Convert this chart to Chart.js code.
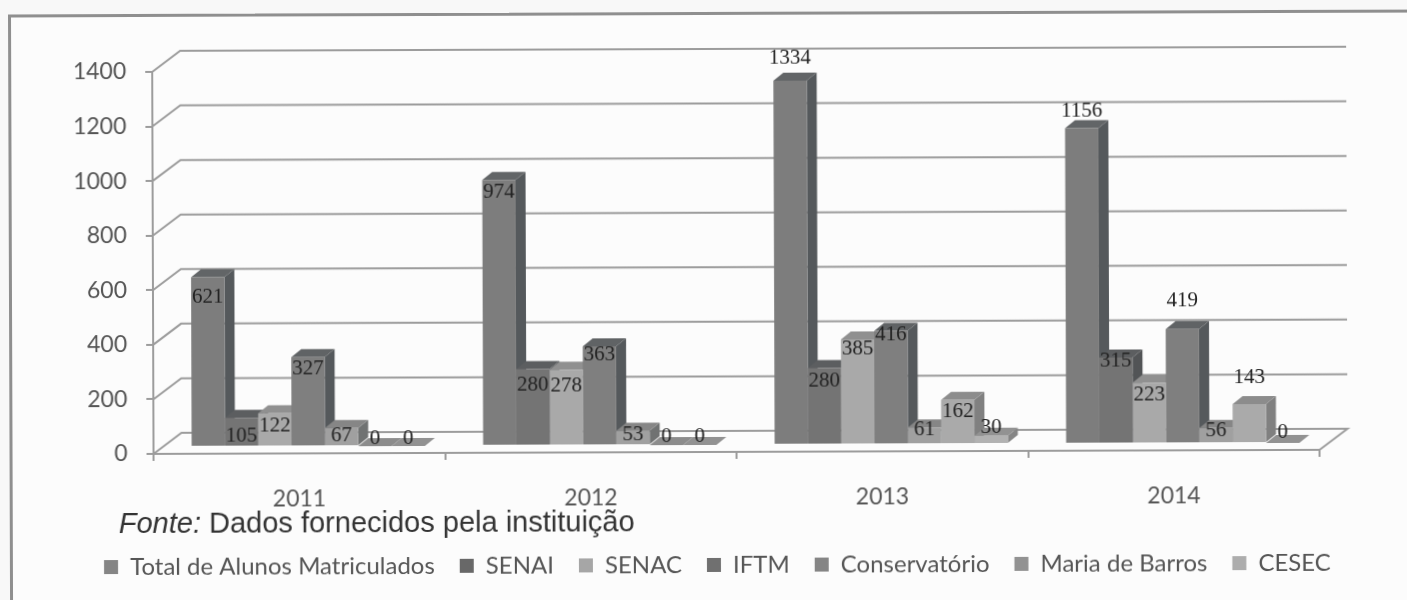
<!DOCTYPE html>
<html>
<head>
<meta charset="utf-8">
<script src="https://cdn.jsdelivr.net/npm/chart.js@4"></script>
<style>
html, body { margin: 0; width: 1407px; height: 600px; overflow: hidden; background: #f8f8f8; }
#page { position: absolute; left: 0; top: 0; width: 1407px; height: 600px; transform: rotate(-0.2deg); }
#frame { position: absolute; left: 9px; top: 12px; width: 1420px; height: 590px; border: 3px solid #8f8f8f; background: #fcfcfc; }
#chart { position: absolute; left: 0; top: 0; }
#fonte { position: absolute; left: 118px; top: 505px; font: 29px "Liberation Sans", sans-serif; color: #333; white-space: nowrap; }
</style>
</head>
<body>
<div id="page">
  <div id="frame"></div>
  <canvas id="chart" width="1407" height="600"></canvas>
  <div id="fonte"><em>Fonte:</em> Dados fornecidos pela instituição</div>
</div>
<script>
const years = ["2011", "2012", "2013", "2014"];
const seriesNames = ["Total de Alunos Matriculados", "SENAI", "SENAC", "IFTM", "Conservatório", "Maria de Barros", "CESEC"];
const totalAlunos = [621, 974, 1334, 1156];
const senai = [105, 280, 280, 315];
const senac = [122, 278, 385, 223];
const iftm = [327, 363, 416, 419];
const conservatorio = [67, 53, 61, 56];
const mariaDeBarros = [0, 0, 162, 143];
const cesec = [0, 0, 30, 0];
const seriesValues = [totalAlunos, senai, senac, iftm, conservatorio, mariaDeBarros, cesec];

// front, side and top of each 3d bar, then the legend square
const frontColors = ["#7d7d7d", "#747474", "#a9a9a9", "#7f7f7f", "#a0a0a0", "#aaaaaa", "#b2b2b2"];
const sideColors = ["#55595c", "#525456", "#808080", "#55595c", "#707272", "#808080", "#858585"];
const topColors = ["#626567", "#5c5e60", "#909090", "#606365", "#868686", "#8c8c8c", "#929292"];
const legendColors = ["#858585", "#686868", "#a6a6a6", "#707070", "#858585", "#929292", "#adadad"];

// how far each label sits from the top of its bar, by series then year
const labelDy = [
  [19, 11, -24, -18],
  [17, 15, 12, 2],
  [12, 15, 9, 11],
  [11, 8, 3, -29],
  [7, 3, 1, 2],
  [-9, -10, 11, -27],
  [-9, -10, -9, -12]
];

const barShift = { x: 9, y: -7 };
const depth = { x: 10, y: 8 };
const wall = { x: 28, y: 21 };
const gridColor = "#9c9c9c";

function poly(ctx, color, pts) {
  ctx.fillStyle = color;
  ctx.beginPath();
  pts.forEach((p, i) => i ? ctx.lineTo(p[0], p[1]) : ctx.moveTo(p[0], p[1]));
  ctx.closePath();
  ctx.fill();
}

const wallAndDepth = {
  id: "wallAndDepth",
  beforeDatasetsDraw(chart) {
    const ctx = chart.ctx, area = chart.chartArea, yScale = chart.scales.y;
    ctx.save();
    // back wall lines
    ctx.strokeStyle = gridColor;
    ctx.lineWidth = 2;
    yScale.ticks.forEach(t => {
      const y = yScale.getPixelForValue(t.value);
      ctx.beginPath();
      ctx.moveTo(area.left, y);
      ctx.lineTo(area.left + wall.x, y - wall.y);
      ctx.lineTo(area.right + wall.x, y - wall.y);
      if (t.value === 0) ctx.lineTo(area.right, y);
      ctx.stroke();
    });
    ctx.translate(barShift.x, barShift.y);
    // sides and tops left to right, fronts come after from the library
    years.forEach((year, c) => {
      seriesNames.forEach((name, d) => {
        const bar = chart.getDatasetMeta(d).data[c];
        const l = bar.x - bar.width / 2, r = bar.x + bar.width / 2;
        poly(ctx, sideColors[d], [[r, bar.y], [r + depth.x, bar.y - depth.y], [r + depth.x, bar.base - depth.y], [r, bar.base]]);
        poly(ctx, topColors[d], [[l, bar.y], [l + depth.x, bar.y - depth.y], [r + depth.x, bar.y - depth.y], [r, bar.y]]);
      });
    });
  },
  afterDatasetsDraw(chart) {
    const ctx = chart.ctx;
    ctx.restore();
    ctx.save();
    ctx.font = '21px "Liberation Serif", serif';
    ctx.fillStyle = "#222";
    ctx.textAlign = "center";
    ctx.textBaseline = "middle";
    seriesValues.forEach((values, d) => {
      values.forEach((v, c) => {
        const bar = chart.getDatasetMeta(d).data[c];
        ctx.fillText(String(v), bar.x + barShift.x, bar.y + barShift.y + labelDy[d][c] + 1);
      });
    });
    ctx.restore();
  }
};

const bottomPad = 13;

new Chart(document.getElementById("chart"), {
  type: "bar",
  data: {
    labels: years,
    datasets: seriesNames.map((name, d) => ({
      label: name,
      data: seriesValues[d],
      backgroundColor: frontColors[d],
      borderWidth: 0,
      categoryPercentage: 0.8,
      barPercentage: 1
    }))
  },
  options: {
    responsive: false,
    animation: false,
    layout: { padding: { left: 26, top: 70, right: 0, bottom: bottomPad } },
    plugins: {
      tooltip: { enabled: false },
      legend: {
        position: "bottom",
        labels: {
          boxWidth: 14,
          boxHeight: 14,
          padding: 25,
          color: "#555",
          font: { family: "Lato", size: 24 },
          generateLabels: chart => seriesNames.map((name, d) => ({
            text: name, fillStyle: legendColors[d], strokeStyle: legendColors[d], lineWidth: 0, datasetIndex: d, fontColor: "#555"
          }))
        }
      }
    },
    scales: {
      x: {
        grid: { drawOnChartArea: false, tickLength: 7, color: gridColor, lineWidth: 2 },
        border: { color: gridColor, width: 2 },
        ticks: { padding: 25, color: "#555", font: { family: "Lato", size: 23 } },
        afterFit: s => { s.height = 600 - 452 - bottomPad - s.chart.legend.height; }
      },
      y: {
        min: 0,
        max: 1400,
        grid: { drawOnChartArea: false, tickLength: 7, color: gridColor, lineWidth: 2 },
        border: { color: gridColor, width: 2 },
        ticks: { stepSize: 200, padding: 19, color: "#555", font: { family: "Lato", size: 23 }, callback: v => String(v) },
        afterFit: s => { s.width = 127; }
      },
      // empty axis, only holds the room right of the plot
      pad: {
        position: "right",
        grid: { display: false },
        border: { display: false },
        ticks: { display: false },
        afterFit: s => { s.width = 88; }
      }
    }
  },
  plugins: [wallAndDepth]
});
</script>
</body>
</html>
